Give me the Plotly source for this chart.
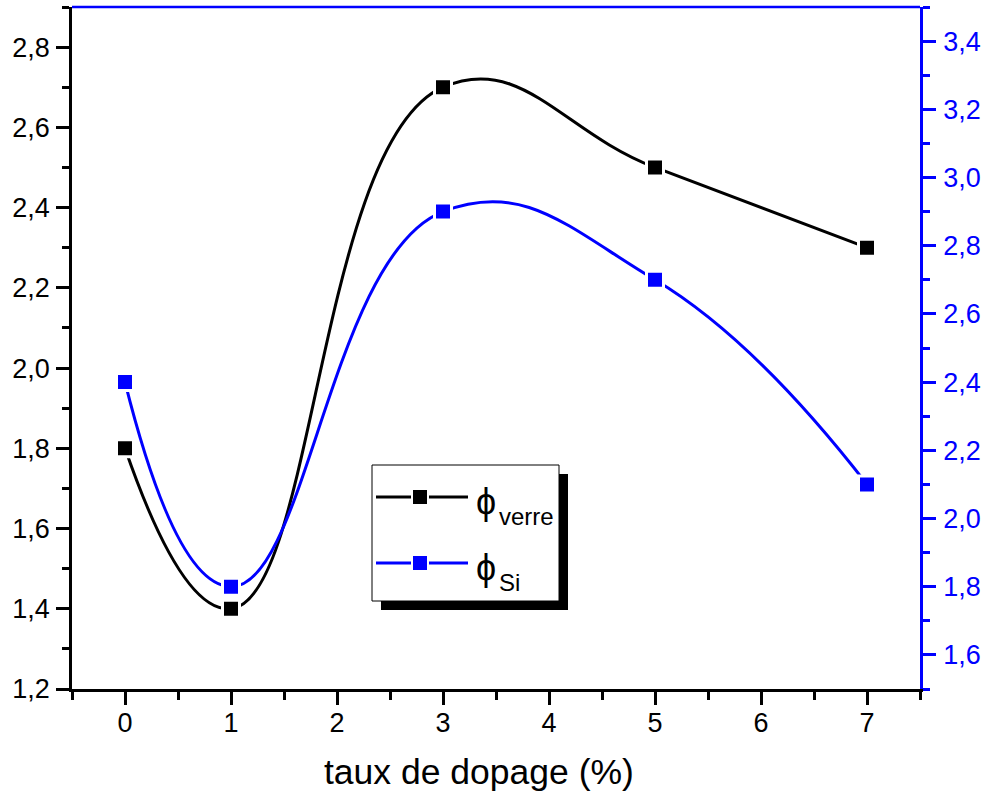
import plotly.graph_objects as go

# Doping rate (%) and the two measured quantities
taux = [0, 1, 3, 5, 7]
phi_verre = [1.8, 1.4, 2.7, 2.5, 2.3]   # left axis
phi_si = [2.4, 1.8, 2.9, 2.7, 2.1]      # right axis

BLUE = "#0000ff"
BLACK = "#000000"
FONT = "Liberation Sans, Arial, sans-serif"

W, H = 987, 797
ML, MR, MT, MB = 72, 67, 7, 108
PW, PH = W - ML - MR, H - MT - MB


def px(x, y):
    """pixel position -> paper coordinates"""
    return (x - ML) / PW, (H - MB - y) / PH


fig = go.Figure()

marker_common = dict(symbol="square", size=17, line=dict(color="white", width=3))

fig.add_trace(go.Scatter(
    x=taux, y=phi_verre, mode="lines+markers", name="verre",
    line=dict(color=BLACK, width=3, shape="spline", smoothing=1.3),
    marker=dict(color=BLACK, **marker_common), yaxis="y",
))
fig.add_trace(go.Scatter(
    x=taux, y=phi_si, mode="lines+markers", name="Si",
    line=dict(color=BLUE, width=3, shape="spline", smoothing=1.3),
    marker=dict(color=BLUE, **marker_common), yaxis="y2",
))

tickfont = dict(family=FONT, size=27, color=BLACK)

fig.update_layout(
    width=W, height=H,
    margin=dict(l=ML, r=MR, t=MT, b=MB),
    paper_bgcolor="white", plot_bgcolor="white",
    separators=", ",
    showlegend=False,
    font=dict(family=FONT),
    xaxis=dict(
        range=[-0.5, 7.5], tickmode="linear", tick0=0, dtick=1,
        showgrid=False, zeroline=False, automargin=False,
        showline=True, linecolor=BLACK, linewidth=2.5,
        ticks="outside", ticklen=13, tickwidth=2.5, tickcolor=BLACK,
        minor=dict(ticks="outside", ticklen=8, tickwidth=2.5, tickcolor=BLACK,
                   tick0=-0.5, dtick=0.5),
        tickfont=tickfont, ticklabelstandoff=-5,
    ),
    yaxis=dict(
        range=[1.2, 2.9], tickmode="linear", tick0=1.2, dtick=0.2, tickformat=".1f",
        showgrid=False, zeroline=False, automargin=False,
        showline=True, linecolor=BLACK, linewidth=2.5,
        ticks="outside", ticklen=13, tickwidth=2.5, tickcolor=BLACK,
        minor=dict(ticks="outside", ticklen=7, tickwidth=2.5, tickcolor=BLACK,
                   tick0=1.2, dtick=0.1),
        tickfont=tickfont, ticklabelstandoff=1,
    ),
    yaxis2=dict(
        range=[1.5, 3.5], overlaying="y", side="right",
        tickmode="linear", tick0=1.6, dtick=0.2, tickformat=".1f",
        showgrid=False, zeroline=False, automargin=False,
        showline=True, linecolor=BLUE, linewidth=2.5,
        ticks="outside", ticklen=13, tickwidth=2.5, tickcolor=BLUE,
        minor=dict(ticks="outside", ticklen=7, tickwidth=2.5, tickcolor=BLUE,
                   tick0=1.5, dtick=0.1),
        tickfont=dict(family=FONT, size=27, color=BLUE), ticklabelstandoff=2,
    ),
)

shapes = []
# blue top frame line
shapes.append(dict(type="line", xref="paper", yref="paper", x0=0, x1=1, y0=1, y1=1,
                   line=dict(color=BLUE, width=2.5), layer="above"))

# legend box with drop shadow
sx0, sy0 = px(381, 474)
sx1, sy1 = px(568, 610)
shapes.append(dict(type="rect", xref="paper", yref="paper", x0=sx0, x1=sx1, y0=sy1, y1=sy0,
                   fillcolor=BLACK, line=dict(width=0), layer="above"))
bx0, by0 = px(372, 465)
bx1, by1 = px(559, 601)
shapes.append(dict(type="rect", xref="paper", yref="paper", x0=bx0, x1=bx1, y0=by1, y1=by0,
                   fillcolor="white", line=dict(color=BLACK, width=1), layer="above"))

annotations = []
for ypix, color, sub in [(497, BLACK, "verre"), (563, BLUE, "Si")]:
    lx0, ly = px(376, ypix)
    lx1, _ = px(468, ypix)
    shapes.append(dict(type="line", xref="paper", yref="paper", x0=lx0, x1=lx1, y0=ly, y1=ly,
                       line=dict(color=color, width=3), layer="above"))
    mx0, my0 = px(420 - 9, ypix - 9)
    mx1, my1 = px(420 + 9, ypix + 9)
    shapes.append(dict(type="rect", xref="paper", yref="paper", x0=mx0, x1=mx1, y0=my1, y1=my0,
                       fillcolor="white", line=dict(width=0), layer="above"))
    mx0, my0 = px(420 - 7, ypix - 7)
    mx1, my1 = px(420 + 7, ypix + 7)
    shapes.append(dict(type="rect", xref="paper", yref="paper", x0=mx0, x1=mx1, y0=my1, y1=my0,
                       fillcolor=color, line=dict(width=0), layer="above"))
    ax, ay = px(486, ypix + 4)
    annotations.append(dict(xref="paper", yref="paper", x=ax, y=ay, text="ϕ",
                            showarrow=False, xanchor="center", yanchor="middle",
                            font=dict(family=FONT, size=36, color=BLACK)))
    tx, ty = px(497, ypix + 19)
    annotations.append(dict(xref="paper", yref="paper", x=tx, y=ty, text=sub,
                            showarrow=False, xanchor="left", yanchor="middle",
                            font=dict(family=FONT, size=24, color=BLACK)))

# x-axis title
tx, ty = px(479, 772)
annotations.append(dict(xref="paper", yref="paper", x=tx, y=ty, text="taux de dopage (%)",
                        showarrow=False, xanchor="center", yanchor="middle",
                        font=dict(family=FONT, size=35.5, color=BLACK)))

fig.update_layout(shapes=shapes, annotations=annotations)

fig.write_html("out.html")
